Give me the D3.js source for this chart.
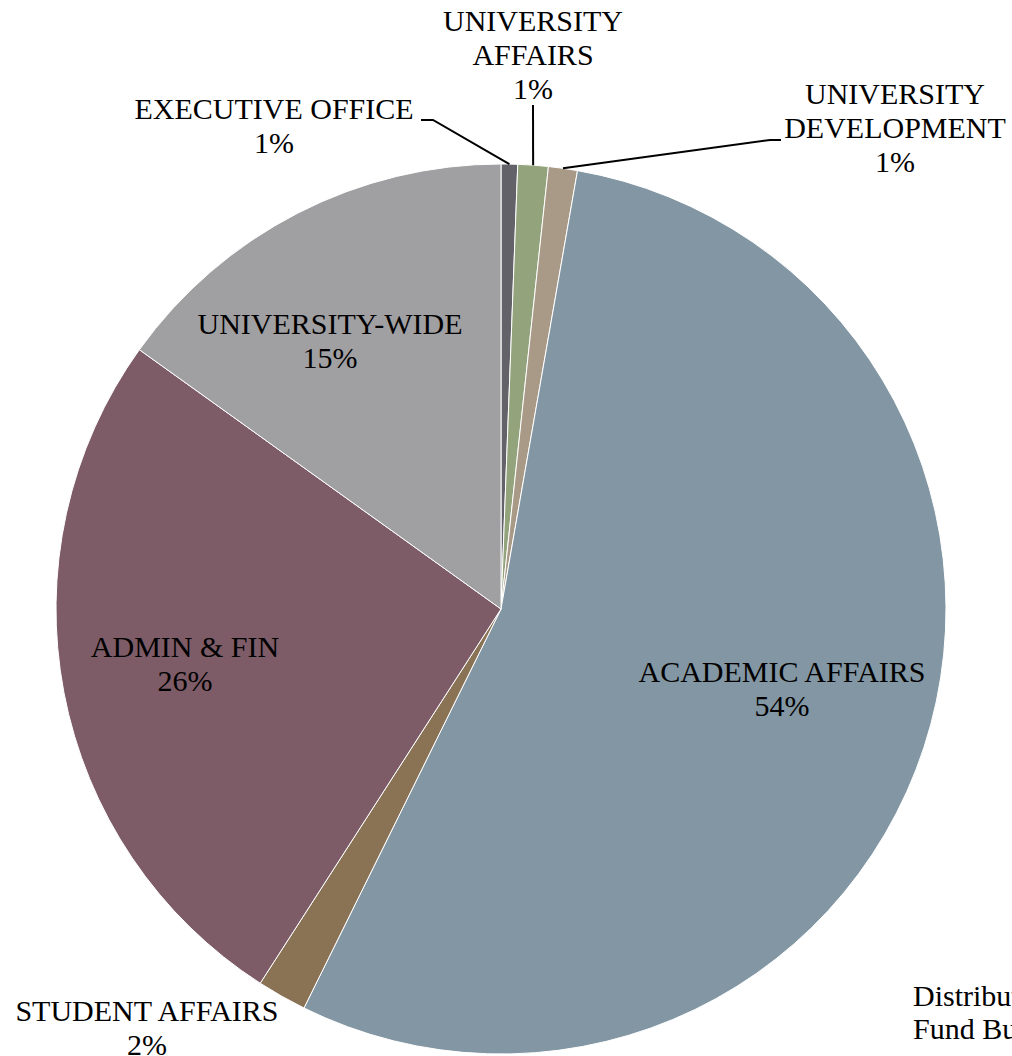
<!DOCTYPE html>
<html>
<head>
<meta charset="utf-8">
<script src="https://cdn.jsdelivr.net/npm/d3@7"></script>
<style>
  body { margin: 0; background: #fff; overflow: hidden; }
  text { font-family: "Liberation Serif", "DejaVu Serif", serif; font-size: 30px; fill: #000; }
</style>
</head>
<body>
<script>
// Slices, clockwise from 12 o'clock
const categories = ["EXECUTIVE OFFICE", "UNIVERSITY AFFAIRS", "UNIVERSITY DEVELOPMENT",
    "ACADEMIC AFFAIRS", "STUDENT AFFAIRS", "ADMIN & FIN", "UNIVERSITY-WIDE"];
const shares = [0.6, 1.1, 1.05, 54.55, 1.8, 25.8, 15.1];
const pctLabels = ["1%", "1%", "1%", "54%", "2%", "26%", "15%"];
const colors = ["#636268", "#93a37c", "#a89a86", "#8296a3", "#8a7255", "#7d5c67", "#a09fa2"];

// label text lines (how Excel wrapped them)
const labelLines = [
    ["EXECUTIVE OFFICE"],
    ["UNIVERSITY", "AFFAIRS"],
    ["UNIVERSITY", "DEVELOPMENT"],
    ["ACADEMIC AFFAIRS"],
    ["STUDENT AFFAIRS"],
    ["ADMIN & FIN"],
    ["UNIVERSITY-WIDE"]
];

// label centre (x, top baseline y) and leader start, layout only
const labelLayout = [
    {x: 274, y: 119, lead: [[421, 120], [433, 120]]},
    {x: 533, y: 31, lead: [[533, 105]]},
    {x: 895, y: 104, lead: [[781, 140], [770, 140]]},
    {x: 782, y: 682},
    {x: 147, y: 1021},
    {x: 185, y: 657},
    {x: 330, y: 334}
];

const width = 1012, height = 1056;
const cx = 501, cy = 609, radius = 445;
const lineH = 34;

const svg = d3.select("body").append("svg")
    .attr("width", width)
    .attr("height", height);

const g = svg.append("g").attr("transform", `translate(${cx},${cy})`);

const pie = d3.pie().sort(null).value(d => d)(shares);
const arc = d3.arc().innerRadius(0).outerRadius(radius);

g.selectAll("path.slice")
    .data(pie)
    .join("path")
    .attr("class", "slice")
    .attr("d", arc)
    .attr("fill", (d, i) => colors[i])
    .attr("stroke", "#fff")
    .attr("stroke-width", 1);

// leader lines for the small slices
const line = d3.line();
pie.forEach((d, i) => {
    const lay = labelLayout[i];
    if (!lay.lead) return;
    const mid = (d.startAngle + d.endAngle) / 2;
    const p = [cx + radius * Math.sin(mid), cy - radius * Math.cos(mid)];
    svg.append("path")
        .attr("d", line(lay.lead.concat([p])))
        .attr("fill", "none")
        .attr("stroke", "#000")
        .attr("stroke-width", 2);
});

// labels
labelLayout.forEach((lay, i) => {
    const lines = labelLines[i].concat([pctLabels[i]]);
    const t = svg.append("text")
        .attr("text-anchor", "middle")
        .attr("x", lay.x)
        .attr("y", lay.y);
    lines.forEach((s, k) => {
        t.append("tspan")
            .attr("x", lay.x)
            .attr("dy", k === 0 ? 0 : lineH)
            .text(s);
    });
});

// chart title, cut off at the right edge in the original
const title = svg.append("text").attr("x", 913).attr("y", 1006);
title.append("tspan").attr("x", 913).text("Distribution of General");
title.append("tspan").attr("x", 913).attr("dy", 33).text("Fund Budget");
</script>
</body>
</html>
